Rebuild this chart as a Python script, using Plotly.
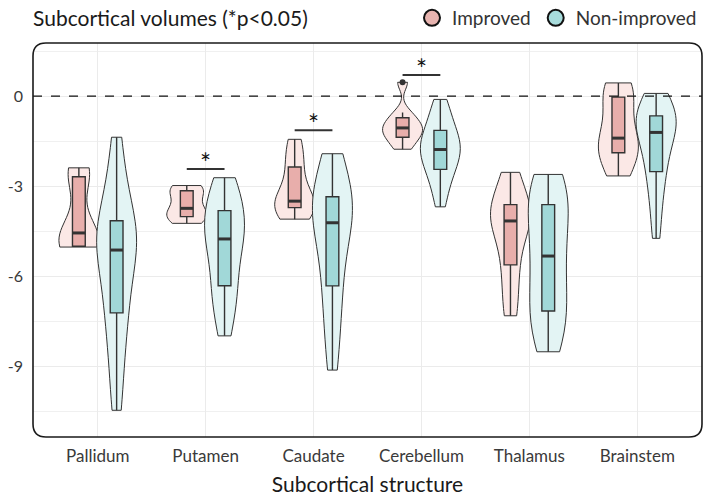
import numpy as np
import plotly.graph_objects as go

categories = ["Pallidum", "Putamen", "Caudate", "Cerebellum", "Thalamus", "Brainstem"]

improved = {
    "Pallidum":   [-5.03, -5.02, -5.0, -4.85, -4.56, -4.3, -2.73, -2.55, -2.39],
    "Putamen":    [-4.24, -4.1, -3.99, -3.85, -3.74, -3.4, -3.19, -3.05, -2.98],
    "Caudate":    [-4.1, -3.85, -3.67, -3.58, -3.5, -3.1, -2.48, -2.0, -1.44],
    "Cerebellum": [-1.77, -1.5, -1.33, -1.2, -1.06, -0.95, -0.78, -0.55, 0.46],
    "Thalamus":   [-7.32, -6.3, -5.4, -4.6, -4.16, -3.95, -3.72, -3.3, -2.54],
    "Brainstem":  [-2.66, -2.2, -1.78, -1.6, -1.4, -0.8, -0.11, 0.2, 0.44],
}

non_improved = {
    "Pallidum":   [-10.47, -9.3, -8.4, -7.6, -7.1, -6.6, -6.0, -5.5, -5.13, -4.9, -4.7, -4.5, -4.27, -3.8, -3.2, -2.5, -1.37],
    "Putamen":    [-7.99, -7.4, -6.9, -6.5, -6.26, -5.8, -5.3, -5.0, -4.76, -4.55, -4.35, -4.1, -3.89, -3.6, -3.3, -3.0, -2.72],
    "Caudate":    [-9.13, -8.2, -7.4, -6.7, -6.2, -5.6, -5.0, -4.6, -4.22, -4.0, -3.8, -3.6, -3.44, -3.1, -2.7, -2.3, -1.92],
    "Cerebellum": [-3.69, -3.2, -2.85, -2.6, -2.39, -2.2, -2.05, -1.9, -1.78, -1.65, -1.5, -1.35, -1.19, -1.0, -0.75, -0.45, -0.11],
    "Thalamus":   [-8.52, -8.1, -7.7, -7.4, -7.08, -6.6, -6.2, -5.8, -5.33, -4.9, -4.5, -4.1, -3.69, -3.4, -3.1, -2.85, -2.61],
    "Brainstem":  [-4.74, -3.9, -3.3, -2.8, -2.42, -2.1, -1.8, -1.5, -1.21, -1.05, -0.95, -0.85, -0.71, -0.5, -0.3, -0.1, 0.09],
}

significant = ["Putamen", "Caudate", "Cerebellum"]
sig_bar_y = [-2.43, -1.14, 0.70]

y_tickvals = [0, -3, -6, -9]

FONT = "Lato"
DARK = "#333333"
OFFSET = 0.175
VW = 0.37
BOXW = 0.32

groups = [
    ("Improved", improved, -OFFSET, "#fbe8e6", "#e8aeab", "#e8b4b0"),
    ("Non-improved", non_improved, OFFSET, "#e3f4f4", "#a1d8d8", "#a8dcdc"),
]


def nrd0(v):
    a = np.asarray(v, dtype=float)
    sd = a.std(ddof=1)
    iqr = np.subtract(*np.percentile(a, [75, 25]))
    s = min(sd, iqr / 1.34) if iqr > 0 else sd
    return 0.9 * s * len(a) ** (-0.2)


fig = go.Figure()

for name, data, off, vfill, bfill, lcol in groups:
    for i, c in enumerate(categories):
        vals = data[c]
        fig.add_trace(go.Violin(
            x=[i + off] * len(vals), y=vals, name=name, showlegend=False,
            width=VW, spanmode="hard", scalemode="width", scalegroup=f"{name}-{c}",
            bandwidth=nrd0(vals),
            fillcolor=vfill, line=dict(color=DARK, width=1),
            box=dict(visible=True, width=BOXW, fillcolor=bfill,
                     line=dict(color=DARK, width=1.4)),
            meanline=dict(visible=False),
            points="outliers", pointpos=0, jitter=0,
            marker=dict(color=DARK, size=6, line=dict(width=0)),
            hoverinfo="skip",
        ))
    mx, my = [], []
    hw = VW * BOXW / 2
    for i, c in enumerate(categories):
        m = float(np.median(data[c]))
        mx += [i + off - hw, i + off + hw, None]
        my += [m, m, None]
    fig.add_trace(go.Scatter(x=mx, y=my, mode="lines", showlegend=False,
                             line=dict(color=DARK, width=3), hoverinfo="skip"))

for name, data, off, vfill, bfill, lcol in groups:
    fig.add_trace(go.Scatter(
        x=[None], y=[None], mode="markers", name=name,
        marker=dict(symbol="circle", size=16, color=lcol,
                    line=dict(color="#111111", width=2)),
    ))

shapes = []
shapes.append(dict(type="line", xref="paper", yref="y", x0=0, x1=1, y0=0, y1=0,
                   line=dict(color="#111111", width=1.2, dash="dash"), layer="above"))
annotations = []
for c, yb in zip(significant, sig_bar_y):
    i = categories.index(c)
    shapes.append(dict(type="line", xref="x", yref="y", x0=i - OFFSET, x1=i + OFFSET,
                       y0=yb, y1=yb, line=dict(color=DARK, width=2)))
    annotations.append(dict(x=i, y=yb, xref="x", yref="y", text="*", showarrow=False,
                            yanchor="bottom", yshift=-12,
                            font=dict(family=FONT, size=26, color="#111111")))

W, H = 707, 498
ml, mr, mt, mb = 33, 5, 43, 61
pw, ph = W - ml - mr, H - mt - mb
r = 13
rx, ry = r / pw, r / ph
path = (f"M {rx},0 L {1-rx},0 Q 1,0 1,{ry} L 1,{1-ry} Q 1,1 {1-rx},1 "
        f"L {rx},1 Q 0,1 0,{1-ry} L 0,{ry} Q 0,0 {rx},0 Z")
shapes.append(dict(type="path", xref="paper", yref="paper", path=path,
                   line=dict(color="#1a1a1a", width=1.6), layer="above"))

fig.update_layout(
    width=W, height=H,
    margin=dict(l=ml, r=mr, t=mt, b=mb, autoexpand=False),
    paper_bgcolor="white", plot_bgcolor="white",
    font=dict(family=FONT, color=DARK),
    violinmode="overlay",
    title=dict(text="Subcortical volumes (*p<0.05)", x=ml / W, xanchor="left",
               y=1 - 19 / H, yanchor="middle", yref="container",
               font=dict(family=FONT, size=21, color="#1a1a1a")),
    legend=dict(orientation="h", x=1.0, xanchor="right", y=1 + 25 / ph, yanchor="middle",
                font=dict(family=FONT, size=19, color="#333333"),
                bgcolor="rgba(0,0,0,0)", itemwidth=30, traceorder="normal"),
    shapes=shapes, annotations=annotations,
    xaxis=dict(range=[-0.6, 5.6], tickmode="array", tickvals=list(range(len(categories))),
               ticktext=categories, showgrid=True, gridcolor="#ebebeb", gridwidth=1,
               zeroline=False, showline=False, ticks="", ticklabelstandoff=7,
               tickfont=dict(family=FONT, size=17, color="#3a3a3a"),
               title=dict(text="Subcortical structure", standoff=12,
                          font=dict(family=FONT, size=21, color="#1a1a1a"))),
    yaxis=dict(range=[-11.36, 1.77], tickmode="array", tickvals=y_tickvals,
               ticktext=[str(v) for v in y_tickvals], showgrid=True, gridcolor="#ebebeb",
               gridwidth=1, zeroline=False, showline=False, ticks="", ticklabelstandoff=9,
               tickfont=dict(family=FONT, size=16, color="#3a3a3a"),
               minor=dict(tickmode="array", tickvals=[1.5, -1.5, -4.5, -7.5, -10.5],
                          showgrid=True, gridcolor="#f0f0f0", gridwidth=1)),
)

fig.write_html("out.html")
